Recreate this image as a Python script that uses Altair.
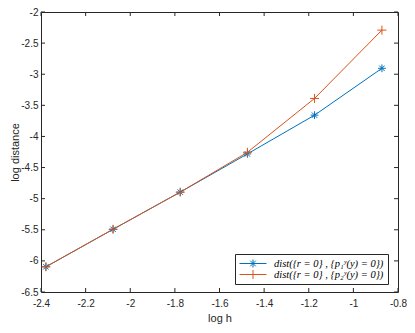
import altair as alt
import pandas as pd

# ---- data ----
log_h = [-2.378, -2.077, -1.776, -1.475, -1.174, -0.872]
dist_p1 = [-6.095, -5.492, -4.895, -4.281, -3.658, -2.905]
dist_p2 = [-6.095, -5.492, -4.895, -4.255, -3.389, -2.291]
series_labels = ["dist({r = 0} , {p\u2081\u02b8(y) = 0})",
                 "dist({r = 0} , {p\u2082\u02b8(y) = 0})"]
x_ticks = [-2.4, -2.2, -2.0, -1.8, -1.6, -1.4, -1.2, -1.0, -0.8]
y_ticks = [-6.5, -6.0, -5.5, -5.0, -4.5, -4.0, -3.5, -3.0, -2.5, -2.0]

colors = ["#0072BD", "#D95319"]
ast_path = "M-1,0H1M0,-1V1M-0.7,-0.7L0.7,0.7M-0.7,0.7L0.7,-0.7"
plus_path = "M-1,0H1M0,-1V1"
leg_ast = "M-1,0H1M0,-0.3V0.3M-0.21,-0.21L0.21,0.21M-0.21,0.21L0.21,-0.21"
leg_plus = "M-1,0H1M0,-0.33V0.33"

W, H = 357, 280
AX = "#262626"
FONT = "Liberation Sans"
SERIF = "Liberation Serif"

df = pd.DataFrame({
    "x": log_h * 2,
    "y": dist_p1 + dist_p2,
    "series": [series_labels[0]] * len(log_h) + [series_labels[1]] * len(log_h),
})
xt = pd.DataFrame({"x": x_ticks})
yt = pd.DataFrame({"y": y_ticks})

xs = alt.Scale(domain=[-2.4, -0.8], nice=False, zero=False)
ys = alt.Scale(domain=[-6.5, -2.0], nice=False, zero=False)

x_axis = alt.Axis(values=x_ticks, tickCount=len(x_ticks), labelExpr="datum.value + ''",
                  ticks=False, domain=False, grid=False, labelFont=FONT, labelFontSize=10,
                  labelColor=AX, labelPadding=6, labelFlush=False, labelOverlap=False,
                  title="log h", titleFont=FONT, titleFontSize=11, titleFontWeight="normal",
                  titleColor=AX, titlePadding=4)
y_axis = alt.Axis(values=y_ticks, tickCount=len(y_ticks), labelExpr="datum.value + ''",
                  ticks=False, domain=False, grid=False, labelFont=FONT, labelFontSize=10,
                  labelColor=AX, labelPadding=3, labelFlush=False, labelOverlap=False,
                  title="log distance", titleFont=FONT, titleFontSize=11,
                  titleFontWeight="normal", titleColor=AX, titlePadding=0)

base = alt.Chart(df)
layers = []
for i, (lab, col) in enumerate(zip(series_labels, colors)):
    sub = base.transform_filter(alt.datum.series == lab)
    if i == 0:
        enc = dict(x=alt.X("x:Q", scale=xs, axis=x_axis), y=alt.Y("y:Q", scale=ys, axis=y_axis))
    else:
        enc = dict(x=alt.X("x:Q", scale=xs), y=alt.Y("y:Q", scale=ys))
    layers.append(sub.mark_line(color=col, strokeWidth=1).encode(**enc))
for lab, col, shp, sz in zip(series_labels, colors, [ast_path, plus_path], [60, 81]):
    sub = base.transform_filter(alt.datum.series == lab)
    layers.append(sub.mark_point(shape=shp, color=col, filled=False, strokeWidth=1, size=sz,
                                 opacity=1).encode(x=alt.X("x:Q", scale=xs),
                                                   y=alt.Y("y:Q", scale=ys)))

legend = alt.Legend(orient="none", legendX=194, legendY=H - 38, title=None,
                    strokeColor=AX, fillColor="white", padding=4, cornerRadius=0,
                    symbolSize=729, symbolStrokeWidth=1, clipHeight=11, rowPadding=0,
                    labelFont=SERIF, labelFontStyle="italic", labelFontSize=10.5,
                    labelColor="black", labelOffset=7)
legend_layer = base.transform_filter("false").mark_point(filled=False, strokeWidth=1, opacity=1).encode(
    x=alt.X("x:Q", scale=xs),
    y=alt.Y("y:Q", scale=ys),
    color=alt.Color("series:N", scale=alt.Scale(domain=series_labels, range=colors), legend=legend),
    shape=alt.Shape("series:N", scale=alt.Scale(domain=series_labels, range=[leg_ast, leg_plus]),
                    legend=legend),
)
layers.append(legend_layer)

tick = dict(color=AX, strokeWidth=1)
layers.append(alt.Chart(xt).mark_rule(**tick).encode(
    x=alt.X("x:Q", scale=xs), y=alt.value(H), y2=alt.value(H - 4)))
layers.append(alt.Chart(xt).mark_rule(**tick).encode(
    x=alt.X("x:Q", scale=xs), y=alt.value(0), y2=alt.value(4)))
layers.append(alt.Chart(yt).mark_rule(**tick).encode(
    y=alt.Y("y:Q", scale=ys), x=alt.value(0), x2=alt.value(4)))
layers.append(alt.Chart(yt).mark_rule(**tick).encode(
    y=alt.Y("y:Q", scale=ys), x=alt.value(W), x2=alt.value(W - 4)))

chart = alt.layer(*layers).properties(
    width=W, height=H,
    autosize=alt.AutoSizeParams(type="none"),
    padding={"left": 33, "top": 4, "right": 9, "bottom": 32},
    background="white",
).configure_view(stroke=AX, strokeWidth=1).configure_axis(
    labelOverlap=False, labelFlush=False, labelBound=False
).configure_legend(labelFont=SERIF, labelFontStyle="italic")

chart.save("out.html", embed_options={"renderer": "svg", "actions": False})
